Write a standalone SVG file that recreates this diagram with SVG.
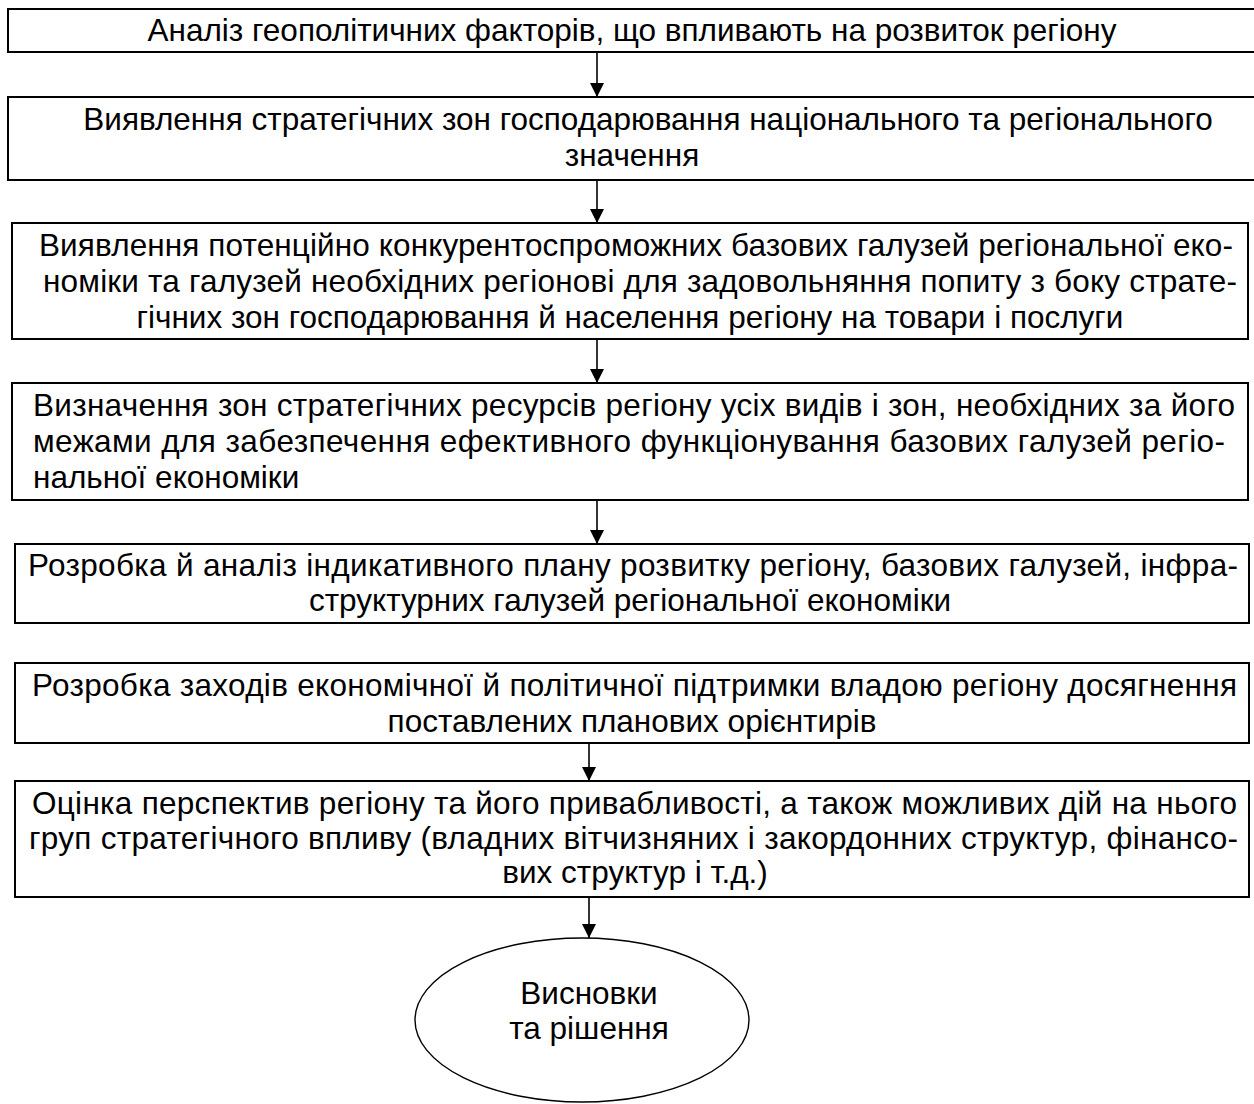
<svg xmlns="http://www.w3.org/2000/svg" width="1254" height="1104" viewBox="0 0 1254 1104">
  <style>
    .box { fill: #fff; stroke: #000; stroke-width: 2; }
    .oval { fill: #fff; stroke: #000; stroke-width: 1.4; }
    .t { font-family: "Liberation Sans", Arial, sans-serif; font-size: 31.5px; fill: #000; }
    .c { text-anchor: middle; }
    .link { stroke: #000; stroke-width: 1.6; fill: none; marker-end: url(#head); }
  </style>
  <defs>
    <!-- filled triangular arrowhead, tip on the end of the line -->
    <marker id="head" markerUnits="userSpaceOnUse" markerWidth="14" markerHeight="14" viewBox="0 0 14 14" refX="14" refY="7" orient="auto">
      <path d="M0,0 L14,7 L0,14 Z" fill="#000"/>
    </marker>
  </defs>
  <rect width="1254" height="1104" fill="#fff"/>

  <!-- connectors -->
  <g id="connectors">
    <line class="link" x1="597" y1="53" x2="597" y2="97"/>
    <line class="link" x1="597" y1="181" x2="597" y2="223"/>
    <line class="link" x1="597" y1="339" x2="597" y2="383"/>
    <line class="link" x1="597" y1="500" x2="597" y2="544"/>
    <line class="link" x1="589" y1="740" x2="589" y2="781"/>
    <line class="link" x1="589" y1="887" x2="589" y2="938"/>
  </g>

  <g id="n1">
    <rect class="box" x="8" y="9" width="1260" height="43"/>
    <text class="t c" x="632" y="41">Аналіз геополітичних факторів, що впливають на розвиток регіону</text>
  </g>

  <g id="n2">
    <rect class="box" x="8" y="97" width="1260" height="83"/>
    <text class="t c" x="648" y="130">Виявлення стратегічних зон господарювання національного та регіонального</text>
    <text class="t c" x="632" y="166">значення</text>
  </g>

  <g id="n3">
    <rect class="box" x="12" y="223" width="1236" height="116"/>
    <text class="t" x="39" y="256" textLength="1194" lengthAdjust="spacing">Виявлення потенційно конкурентоспроможних базових галузей регіональної еко-</text>
    <text class="t" x="43" y="292" textLength="1194" lengthAdjust="spacing">номіки та галузей необхідних регіонові для задовольняння попиту з боку страте-</text>
    <text class="t c" x="630" y="328">гічних зон господарювання й населення регіону на товари і послуги</text>
  </g>

  <g id="n4">
    <rect class="box" x="12" y="383" width="1236" height="117"/>
    <text class="t" x="33" y="416" textLength="1202" lengthAdjust="spacing">Визначення зон стратегічних ресурсів регіону усіх видів і зон, необхідних за його</text>
    <text class="t" x="33" y="452" textLength="1192" lengthAdjust="spacing">межами для забезпечення ефективного функціонування базових галузей регіо-</text>
    <text class="t" x="33" y="488">нальної економіки</text>
  </g>

  <g id="n5">
    <rect class="box" x="15" y="544" width="1234" height="79"/>
    <text class="t" x="28" y="576" textLength="1210" lengthAdjust="spacing">Розробка й аналіз індикативного плану розвитку регіону, базових галузей, інфра-</text>
    <text class="t c" x="630" y="611">структурних галузей регіональної економіки</text>
  </g>

  <g id="n6">
    <rect class="box" x="15" y="663" width="1234" height="80"/>
    <text class="t" x="32" y="696" textLength="1205" lengthAdjust="spacing">Розробка заходів економічної й політичної підтримки владою регіону досягнення</text>
    <text class="t c" x="632" y="732">поставлених планових орієнтирів</text>
  </g>

  <g id="n7">
    <rect class="box" x="15" y="781" width="1234" height="116"/>
    <text class="t" x="32" y="814" textLength="1205" lengthAdjust="spacing">Оцінка перспектив регіону та його привабливості, а також можливих дій на нього</text>
    <text class="t" x="29" y="849" textLength="1209" lengthAdjust="spacing">груп стратегічного впливу (владних вітчизняних і закордонних структур, фінансо-</text>
    <text class="t c" x="635" y="883">вих структур і т.д.)</text>
  </g>

  <g id="n8">
    <ellipse class="oval" cx="582" cy="1020" rx="167" ry="82"/>
    <text class="t c" x="589" y="1004">Висновки</text>
    <text class="t c" x="589" y="1039">та рішення</text>
  </g>
</svg>
